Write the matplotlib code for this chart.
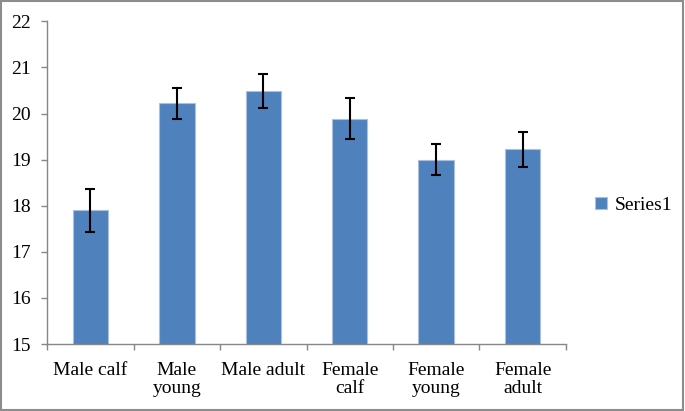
import numpy as np
import matplotlib
matplotlib.use("Agg")
import matplotlib.pyplot as plt
from matplotlib.patches import Rectangle

groups = ["Male calf", "Male\nyoung", "Male adult", "Female\ncalf", "Female\nyoung", "Female\nadult"]
means = [17.90, 20.22, 20.49, 19.89, 19.00, 19.23]
errors = [0.47, 0.34, 0.37, 0.44, 0.33, 0.38]
series_name = "Series1"

plt.rcParams['font.family'] = ['Liberation Serif', 'DejaVu Serif']

fig = plt.figure(figsize=(6.85, 4.11), dpi=100)
ax = fig.add_axes([0.069, 0.163, 0.757, 0.785])

x = np.arange(len(groups))
ax.bar(x, means, width=0.41, color='#4F81BD', edgecolor='#a9c1df', linewidth=0.8,
       label=series_name, zorder=2)
ax.errorbar(x, means, yerr=errors, fmt='none', ecolor='black', elinewidth=1.5,
            capsize=3.3, capthick=1.5, zorder=3)

ax.set_xlim(-0.5, len(groups) - 0.5)
ax.set_ylim(15, 22)
ax.set_yticks(range(15, 23))
ax.set_xticks(x)
ax.set_xticklabels(groups, linespacing=1.1)
ax.set_xticks(np.arange(-0.5, len(groups)), minor=True)

ax.tick_params(axis='x', which='major', length=0, pad=13, labelsize=14)
ax.tick_params(axis='x', which='minor', length=4, width=1, color='#868686', direction='out')
ax.tick_params(axis='y', length=4, width=1, color='#868686', pad=8, labelsize=14)

for side in ['top', 'right']:
    ax.spines[side].set_visible(False)
for side in ['left', 'bottom']:
    ax.spines[side].set_color('#868686')
    ax.spines[side].set_linewidth(1)

leg = fig.legend(loc='center left', bbox_to_anchor=(0.843, 0.5), frameon=False,
                 fontsize=14, handlelength=0.6, handleheight=0.6, handletextpad=0.4)

fig.patches.append(Rectangle((0.002, 0.003), 0.995, 0.994, transform=fig.transFigure,
                             fill=False, edgecolor='#8c8c8c', linewidth=1.5))

fig.savefig("out.png", dpi=100)
